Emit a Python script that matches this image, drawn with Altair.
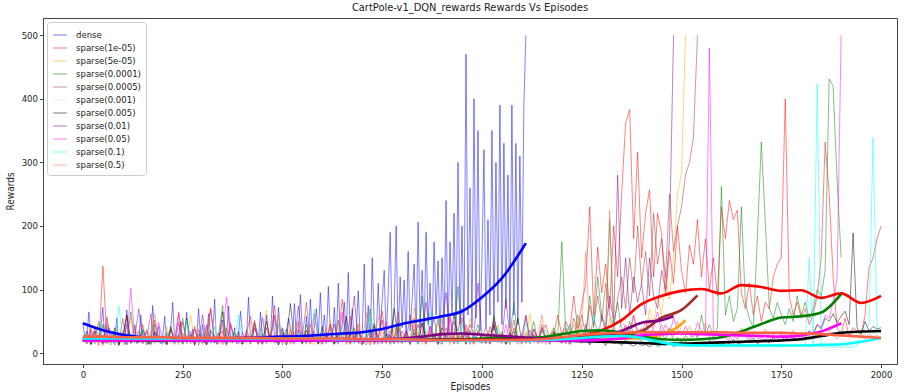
import altair as alt
import pandas as pd

# Episode spacing of the raw reward samples and of the running-average samples
RAW_STEP = 10
DENSE_STEP = 5
TREND_STEP = 50

series_names = [
    "dense", "sparse(1e-05)", "sparse(5e-05)", "sparse(0.0001)", "sparse(0.0005)",
    "sparse(0.001)", "sparse(0.005)", "sparse(0.01)", "sparse(0.05)", "sparse(0.1)",
    "sparse(0.5)",
]
series_colors = [
    "blue", "red", "orange", "green", "brown",
    "#e6e6e6", "black", "purple", "magenta", "cyan",
    "tomato",
]

# ---- raw episode rewards ----
# dense: one value every DENSE_STEP episodes
dense_rewards = [
    47, 22, 30, 65, 14, 20, 35, 18, 28, 40, 72, 16, 25, 40, 33, 22, 18, 55, 12, 26,
    30, 14, 68, 20, 18, 25, 44, 15, 22, 60, 21, 30, 33, 14, 24, 75, 19, 28, 42, 15,
    26, 58, 13, 22, 36, 80, 17, 25, 29, 50, 15, 22, 64, 24, 18, 38, 12, 26, 70, 20,
    45, 16, 28, 62, 27, 18, 85, 14, 22, 34, 52, 19, 26, 74, 23, 16, 40, 15, 30, 66,
    30, 18, 24, 88, 21, 28, 48, 35, 20, 65, 18, 26, 60, 28, 22, 90, 24, 16, 72, 30,
    38, 20, 34, 55, 40, 22, 78, 26, 30, 92, 33, 20, 58, 24, 85, 22, 40, 70, 28, 95,
    30, 60, 18, 105, 35, 22, 72, 20, 110, 28, 45, 80, 25, 127, 26, 70, 18, 35, 98, 22,
    30, 140, 25, 75, 20, 150, 45, 22, 110, 35, 85, 130, 24, 95, 190, 30, 70, 200, 25, 120,
    40, 115, 22, 160, 35, 85, 140, 25, 206, 40, 130, 28, 190, 45, 110, 30, 175, 60, 145, 25,
    150, 35, 240, 30, 175, 60, 220, 28, 300, 45, 200, 30, 470, 60, 260, 40, 400, 55, 350, 35,
    150, 320, 40, 210, 60, 350, 35, 300, 80, 390, 45, 330, 70, 280, 40, 390, 60, 330, 45, 310,
    80, 390, 500,
]
# sparse runs: one value every RAW_STEP episodes
sparse_1e05_rewards = [
    20, 28, 15, 35, 12, 137, 22, 18, 40, 14, 25, 60, 16, 30, 19, 45, 13, 27, 52, 17,
    24, 14, 38, 20, 65, 15, 28, 18, 42, 13, 30, 22, 70, 16, 26, 35, 12, 48, 20, 24,
    15, 32, 58, 18, 25, 14, 40, 21, 75, 16, 28, 13, 36, 22, 50, 17, 30, 14, 62, 20,
    26, 15, 44, 18, 28, 85, 14, 32, 20, 46, 16, 24, 13, 38, 22, 66, 17, 28, 15, 40,
    21, 30, 14, 55, 18, 26, 16, 42, 24, 13, 34, 20, 60, 15, 28, 18, 45, 22, 14, 36,
    20, 26, 15, 50, 18, 30, 22, 14, 40, 24, 17, 58, 20, 28, 16, 35, 45, 22, 30, 60,
    28, 50, 35, 90, 40, 75, 110, 230, 60, 167, 95, 140, 70, 200, 120, 250, 362, 383, 180, 316,
    150, 220, 257, 120, 220, 188, 90, 160, 110, 200, 130, 95, 170, 140, 210, 120, 180, 100, 150, 90,
    230, 180, 240, 210, 225, 95, 70, 110, 60, 90, 50, 80, 70, 120, 140, 150, 400, 90, 60, 80,
    55, 70, 45, 60, 90, 150, 332, 250, 120, 40, 30, 55, 25, 40, 35, 30, 60, 135, 150, 180,
    200,
]
sparse_5e05_rewards = [
    22, 14, 30, 18, 45, 12, 26, 16, 35, 20, 13, 28, 55, 17, 24, 15, 38, 19, 14, 30,
    18, 42, 15, 25, 13, 32, 20, 60, 16, 24, 14, 36, 19, 28, 13, 48, 22, 15, 30, 17,
    26, 14, 40, 19, 16, 33, 68, 15, 24, 18, 30, 13, 45, 20, 26, 15, 35, 18, 14, 28,
    22, 16, 52, 14, 28, 19, 36, 13, 25, 44, 17, 30, 15, 22, 58, 18, 27, 14, 40, 20,
    15, 30, 18, 72, 22, 14, 35, 19, 26, 48, 16, 25, 13, 38, 21, 30, 15, 55, 19, 24,
    14, 32, 18, 26, 45, 16, 22, 13, 35, 20, 28, 15, 62, 18, 25, 14, 30, 21, 40, 17,
    26, 15, 34, 20, 48, 18, 28, 16, 38, 22, 30, 19, 55, 24, 35, 20, 42, 28, 60, 25,
    38, 30, 70, 45, 90, 60, 120, 85, 150, 250, 283, 500,
]
sparse_1e04_rewards = [
    18, 30, 14, 25, 50, 16, 22, 13, 40, 19, 28, 15, 65, 17, 24, 35, 14, 20, 45, 16,
    26, 13, 38, 18, 22, 55, 15, 30, 17, 24, 14, 42, 20, 16, 28, 75, 15, 22, 33, 18,
    14, 26, 19, 48, 15, 30, 17, 22, 60, 13, 25, 38, 16, 20, 28, 14, 45, 18, 24, 15,
    32, 17, 22, 14, 52, 19, 26, 15, 40, 18, 13, 28, 70, 16, 24, 20, 35, 14, 22, 48,
    17, 25, 14, 38, 20, 90, 16, 28, 22, 55, 15, 30, 18, 24, 105, 20, 35, 16, 26, 45,
    18, 28, 15, 60, 22, 34, 17, 26, 80, 20, 14, 30, 24, 50, 18, 36, 22, 28, 40, 25,
    175, 30, 45, 22, 60, 35, 28, 90, 40, 120, 60, 30, 210, 45, 80, 35, 25, 50, 30, 22,
    20, 35, 18, 26, 15, 30, 22, 40, 18, 25, 16, 28, 20, 35, 24, 60, 30, 45, 25, 40,
    262, 60, 90, 50, 70, 230, 80, 55, 40, 180, 332, 206, 70, 55, 80, 60, 45, 70, 50, 90,
    60, 80, 55, 70, 100, 90, 130, 431, 420, 270, 150,
]
sparse_5e04_rewards = [
    25, 15, 38, 18, 22, 14, 45, 20, 30, 16, 55, 13, 26, 19, 35, 15, 22, 62, 17, 28,
    14, 34, 20, 24, 16, 48, 18, 28, 13, 36, 22, 15, 70, 19, 25, 14, 40, 17, 30, 21,
    16, 26, 14, 52, 20, 32, 15, 24, 18, 44, 13, 28, 22, 16, 38, 25, 80, 18, 24, 15,
    30, 19, 46, 14, 26, 17, 22, 58, 16, 34, 20, 13, 28, 42, 18, 24, 15, 36, 22, 65,
    17, 26, 14, 32, 20, 48, 16, 24, 30, 18, 14, 40, 22, 28, 15, 56, 19, 25, 16, 34,
    20, 15, 42, 24, 18, 30, 14, 26, 52, 19, 22, 16, 36, 24, 18, 45, 20, 28, 34, 22,
    30, 40, 25, 55, 35, 60, 28, 75, 45, 90, 50, 110, 60, 40, 85, 120, 70, 150, 95, 200,
    110, 160, 90, 220, 140, 180, 120, 250, 160, 200, 230, 280, 300, 340, 500,
]
sparse_1e03_rewards = [
    20, 30, 15, 25, 40, 18, 22, 14, 35, 20, 16, 28, 50, 17, 24, 15, 30, 19, 26, 14,
    22, 36, 16, 28, 18, 45, 15, 24, 20, 32, 14, 26, 18, 55, 22, 16, 30, 20, 24, 15,
    28, 18, 40, 22, 16, 34, 20, 14, 26, 30,
]
sparse_5e03_rewards = [
    20, 35, 14, 26, 18, 45, 15, 22, 30, 13, 28, 60, 17, 24, 16, 38, 20, 14, 32, 19,
    25, 15, 42, 18, 28, 14, 55, 20, 16, 30, 22, 13, 36, 24, 18, 65, 15, 26, 20, 34,
    14, 28, 18, 40, 22, 16, 50, 19, 25, 13, 32, 20, 78, 17, 24, 15, 36, 22, 28, 14,
    42, 18, 26, 15, 30, 20, 58, 16, 24, 35, 14, 22, 18, 46, 25, 15, 30, 19, 70, 22,
    16, 34, 20, 26, 14, 48, 22, 18, 30, 15, 40, 24, 17, 62, 20, 28, 14, 36, 22, 18,
    30, 16, 24, 44, 19, 26, 14, 32, 21, 55, 17, 25, 15, 38, 22, 18, 28, 14, 34, 20,
    16, 26, 14, 22, 35, 18, 24, 13, 30, 16, 20, 12, 26, 15, 18, 12, 22, 14, 11, 16,
    12, 14, 10, 15, 11, 13, 12, 16, 10, 14, 12, 18, 13, 15, 11, 14, 12, 20, 14, 16,
    13, 18, 15, 22, 16, 14, 20, 17, 24, 15, 19, 22, 16, 25, 18, 21, 26, 19, 24, 22,
    28, 24, 35, 30, 45, 38, 55, 50, 62, 48, 58, 66, 45, 189, 40, 30, 50, 35, 42, 38,
    40,
]
sparse_1e02_rewards = [
    18, 28, 14, 40, 20, 16, 55, 22, 13, 30, 19, 45, 15, 26, 70, 18, 24, 14, 35, 20,
    16, 30, 22, 14, 48, 18, 26, 15, 38, 20, 60, 13, 24, 17, 32, 19, 14, 44, 22, 28,
    15, 36, 18, 24, 14, 56, 20, 28, 16, 22, 40, 13, 30, 18, 74, 21, 15, 26, 34, 19,
    14, 28, 20, 46, 16, 24, 18, 32, 90, 15, 26, 20, 38, 14, 22, 52, 18, 30, 16, 24,
    35, 20, 60, 28, 45, 25, 80, 30, 55, 22, 40, 95, 28, 50, 35, 70, 25, 45, 30, 110,
    26, 40, 20, 55, 30, 22, 85, 25, 35, 18, 28, 60, 22, 30, 18, 40, 24, 20, 32, 18,
    22, 15, 30, 20, 26, 16, 45, 22, 30, 18, 60, 40, 90, 50, 280, 70, 150, 60, 120, 80,
    110, 60, 150, 90, 70, 130, 100, 180, 500,
]
sparse_5e02_rewards = [
    22, 15, 34, 18, 26, 14, 40, 20, 16, 30, 24, 13, 102, 19, 28, 15, 36, 22, 17, 48,
    20, 14, 28, 16, 62, 22, 18, 34, 14, 26, 20, 45, 16, 24, 15, 30, 88, 18, 25, 14,
    32, 20, 16, 40, 22, 14, 28, 18, 58, 15, 24, 30, 19, 14, 36, 22, 16, 46, 20, 26,
    15, 30, 18, 22, 14, 64, 20, 16, 28, 38, 15, 24, 18, 32, 14, 20, 50, 17, 26, 15,
    22, 35, 16, 28, 18, 24, 14, 42, 20, 16, 30, 18, 55, 15, 24, 20, 34, 14, 28, 18,
    16, 26, 14, 32, 20, 15, 45, 18, 24, 14, 30, 16, 22, 38, 15, 20, 14, 28, 18, 24,
    15, 22, 14, 30, 18, 16, 25, 14, 20, 35, 16, 22, 18, 40, 25, 30, 45, 28, 60, 35,
    30, 50, 28, 40, 65, 32, 45, 30, 55, 38, 28, 42, 30, 25, 48, 35, 30, 480, 26, 22,
    30, 24, 20, 28, 22, 35, 26, 20, 30, 24, 22, 28, 20, 25, 18, 30, 22, 26, 20, 28,
    24, 30, 35, 28, 45, 40, 60, 55, 80, 120, 500,
]
sparse_1e01_rewards = [
    24, 16, 30, 14, 22, 45, 18, 26, 15, 75, 20, 14, 32, 18, 24, 38, 15, 22, 16, 28,
    14, 35, 20, 16, 26, 14, 52, 18, 22, 15, 30, 20, 14, 42, 17, 25, 15, 33, 20, 60,
    16, 24, 14, 30, 20, 38, 15, 22, 18, 48, 14, 26, 20, 16, 34, 22, 15, 28, 68, 18,
    24, 15, 32, 20, 16, 44, 18, 25, 14, 30, 22, 16, 56, 18, 26, 15, 34, 20, 14, 28,
    20, 16, 38, 22, 14, 30, 18, 64, 20, 25, 15, 34, 18, 22, 14, 45, 20, 16, 28, 22,
    15, 30, 22, 18, 40, 16, 24, 14, 34, 20, 18, 50, 15, 26, 20, 16, 36, 22, 18, 30,
    20, 28, 45, 24, 30, 22, 38, 26, 60, 30, 25, 40, 28, 55, 22, 35, 26, 30, 20, 24,
    18, 15, 20, 14, 12, 16, 11, 14, 12, 10, 13, 11, 15, 12, 10, 14, 12, 11, 13, 10,
    12, 11, 14, 10, 12, 13, 11, 10, 12, 14, 11, 10, 13, 12, 11, 10, 12, 11, 13, 12,
    14, 12, 150, 11, 424, 10, 9, 10, 9, 10, 9, 10, 9, 10, 12, 30, 40, 45, 339, 35,
    30,
]
sparse_5e01_rewards = [
    26, 18, 40, 15, 30, 22, 58, 16, 28, 20, 35, 14, 24, 45, 18, 30, 16, 26, 62, 20,
    28, 16, 34, 22, 18, 50, 15, 26, 20, 38, 16, 24, 72, 18, 30, 14, 26, 42, 20, 24,
    18, 30, 15, 46, 22, 26, 16, 34, 20, 60, 18, 24, 14, 32, 22, 28, 16, 44, 20, 26,
    15, 36, 22, 18, 50, 20, 28, 16, 32, 22, 18, 64, 20, 26, 15, 38, 22, 18, 30, 24,
    16, 28, 20, 45, 18, 26, 14, 34, 22, 18, 55, 20, 28, 16, 30, 22, 40, 18, 24, 20,
    26, 18, 36, 22, 16, 30, 24, 48, 20, 26, 18, 34, 22, 16, 28, 60, 20, 24, 30, 22,
    28, 35, 24, 45, 30, 40, 160, 32, 50, 38, 28, 45, 225, 36, 30, 50, 40, 34, 60, 32,
    40, 30, 55, 35, 28, 45, 32, 38, 26, 50, 34, 30, 42, 28, 36, 30, 48, 26, 34, 30,
    28, 36, 24, 32, 26, 40, 30, 22, 34, 28, 24, 38, 26, 30, 22, 34, 28, 24, 36, 26,
    30, 22, 28, 34, 24, 30, 26, 36, 28, 22, 32, 26, 30, 24, 28, 34, 22, 30, 26, 28,
    25,
]

# ---- running averages (one value every TREND_STEP episodes, last one at run end) ----
dense_trend = [47, 36, 29, 25, 23, 22, 22, 23, 24, 25, 26, 27, 29, 31, 33, 38, 46, 52,
               58, 66, 88, 118, 163, 173]
sparse_1e05_trend = [21, 21, 20, 20, 20, 20, 20, 20, 20, 20, 20, 20, 20, 20, 20, 20, 20, 20,
                     20, 20, 20, 21, 21, 22, 24, 28, 36, 52, 77, 90, 98, 101, 94, 107, 104,
                     98, 99, 87, 94, 79, 90]
sparse_5e05_trend = [21, 20, 20, 20, 20, 20, 20, 20, 20, 20, 20, 20, 20, 20, 20, 20, 20, 20,
                     20, 20, 20, 20, 20, 20, 21, 21, 22, 23, 24, 29, 46, 52]
sparse_1e04_trend = [21, 21, 21, 20, 20, 20, 20, 20, 20, 20, 20, 20, 20, 20, 20, 20, 20, 21,
                     22, 22, 23, 24, 24, 25, 30, 35, 36, 32, 26, 22, 21, 22, 25, 34, 46, 56,
                     58, 64, 93]
sparse_5e04_trend = [23, 22, 22, 22, 22, 22, 22, 22, 22, 22, 22, 22, 22, 22, 22, 22, 22, 22,
                     22, 22, 22, 22, 22, 23, 24, 26, 28, 30, 35, 56, 68, 91]
sparse_5e03_trend = [23, 23, 22, 22, 22, 22, 22, 22, 22, 22, 22, 22, 22, 22, 22, 22, 22, 22,
                     22, 22, 22, 22, 21, 21, 20, 19, 18, 17, 16, 15, 15, 16, 17, 18, 19, 20,
                     22, 27, 32, 34, 35]
sparse_1e02_trend = [20, 20, 20, 20, 20, 20, 20, 20, 20, 20, 20, 21, 21, 21, 22, 22, 23, 26,
                     30, 31, 29, 27, 25, 23, 22, 23, 26, 35, 48, 52, 58]
sparse_5e02_trend = [20, 20, 20, 21, 21, 20, 20, 20, 20, 20, 20, 20, 20, 20, 20, 20, 20, 20,
                     20, 20, 20, 20, 20, 20, 20, 20, 21, 23, 28, 30, 31, 30, 29, 28, 27, 26,
                     28, 34, 47]
sparse_1e01_trend = [23, 23, 23, 23, 23, 23, 23, 23, 23, 23, 23, 23, 23, 22, 22, 22, 21, 21,
                     20, 20, 20, 20, 20, 21, 22, 24, 26, 27, 24, 17, 13, 12, 12, 12, 12, 12,
                     12, 13, 14, 18, 24]
sparse_5e01_trend = [26, 26, 25, 25, 25, 24, 24, 24, 24, 24, 23, 23, 23, 23, 22, 22, 22, 21,
                     21, 21, 21, 21, 21, 22, 25, 29, 31, 32, 33, 33, 33, 33, 33, 32, 32, 32,
                     31, 30, 28, 26, 24]

raw_by_series = {
    "dense": dense_rewards,
    "sparse(1e-05)": sparse_1e05_rewards,
    "sparse(5e-05)": sparse_5e05_rewards,
    "sparse(0.0001)": sparse_1e04_rewards,
    "sparse(0.0005)": sparse_5e04_rewards,
    "sparse(0.001)": sparse_1e03_rewards,
    "sparse(0.005)": sparse_5e03_rewards,
    "sparse(0.01)": sparse_1e02_rewards,
    "sparse(0.05)": sparse_5e02_rewards,
    "sparse(0.1)": sparse_1e01_rewards,
    "sparse(0.5)": sparse_5e01_rewards,
}
trend_by_series = {
    "dense": dense_trend,
    "sparse(1e-05)": sparse_1e05_trend,
    "sparse(5e-05)": sparse_5e05_trend,
    "sparse(0.0001)": sparse_1e04_trend,
    "sparse(0.0005)": sparse_5e04_trend,
    "sparse(0.005)": sparse_5e03_trend,
    "sparse(0.01)": sparse_1e02_trend,
    "sparse(0.05)": sparse_5e02_trend,
    "sparse(0.1)": sparse_1e01_trend,
    "sparse(0.5)": sparse_5e01_trend,
}

raw_rows = []
last_episode = {}
for name in series_names:
    vals = raw_by_series[name]
    step = DENSE_STEP if name == "dense" else RAW_STEP
    last_episode[name] = (len(vals) - 1) * step
    for i, v in enumerate(vals):
        raw_rows.append({"series": name, "episode": i * step, "reward": v})
raw_df = pd.DataFrame(raw_rows)

trend_rows = []
for name in series_names:
    if name not in trend_by_series:
        continue
    end = last_episode[name]
    for i, v in enumerate(trend_by_series[name]):
        trend_rows.append({"series": name, "episode": min(i * TREND_STEP, end), "reward": v})
trend_df = pd.DataFrame(trend_rows)

FONT = "Liberation Sans Narrow, DejaVu Sans Condensed, Liberation Sans, sans-serif"

x_enc = alt.X("episode:Q", title="Episodes",
              scale=alt.Scale(domain=[-100, 2040], nice=False, zero=False),
              axis=alt.Axis(values=list(range(0, 2001, 250)), format="d", grid=False))
y_enc = alt.Y("reward:Q", title="Rewards",
              scale=alt.Scale(domain=[-17, 527], nice=False, zero=False),
              axis=alt.Axis(values=list(range(0, 501, 100)), format="d", grid=False))
color_scale = alt.Scale(domain=series_names, range=series_colors)
color_enc = alt.Color(
    "series:N",
    scale=color_scale,
    sort=series_names,
    legend=alt.Legend(title=None, orient="top-left", offset=4, padding=5,
                      strokeColor="#cccccc", fillColor="white", cornerRadius=3,
                      symbolType="stroke", symbolStrokeWidth=1.5, symbolSize=190,
                      symbolOpacity=0.35, labelFontSize=9.5, labelFont=FONT,
                      rowPadding=-2, labelOffset=8, labelColor="#222222"),
)

raw_lines = alt.Chart(raw_df).mark_line(strokeWidth=0.9, opacity=0.55).encode(
    x=x_enc, y=y_enc, color=color_enc, detail="series:N",
    order=alt.Order("episode:Q"),
)
trend_lines = alt.Chart(trend_df).mark_line(strokeWidth=2.6, interpolate="monotone").encode(
    x=x_enc, y=y_enc,
    color=alt.Color("series:N", scale=color_scale, legend=None),
    detail="series:N",
    order=alt.Order("episode:Q"),
)

chart = (
    alt.layer(raw_lines, trend_lines)
    .properties(
        width=854, height=346,
        title=alt.TitleParams("CartPole-v1_DQN_rewards Rewards Vs Episodes",
                              font=FONT, fontSize=11, fontWeight="normal",
                              color="#222222", offset=5, anchor="middle"),
        autosize=alt.AutoSizeParams(type="none"),
        padding={"left": 43, "top": 18, "right": 12, "bottom": 28},
    )
    .configure_view(stroke="#444444", strokeWidth=1)
    .configure_axis(labelFont=FONT, titleFont=FONT, labelFontSize=9.5, titleFontSize=10,
                    titleFontWeight="normal", labelColor="#222222", titleColor="#222222",
                    domainColor="#444444", tickColor="#444444", tickSize=3.5,
                    labelPadding=2)
    .configure_axisX(titlePadding=2)
    .configure_axisY(titlePadding=6)
)

chart.save("out.html", embed_options={"renderer": "svg", "actions": False})
